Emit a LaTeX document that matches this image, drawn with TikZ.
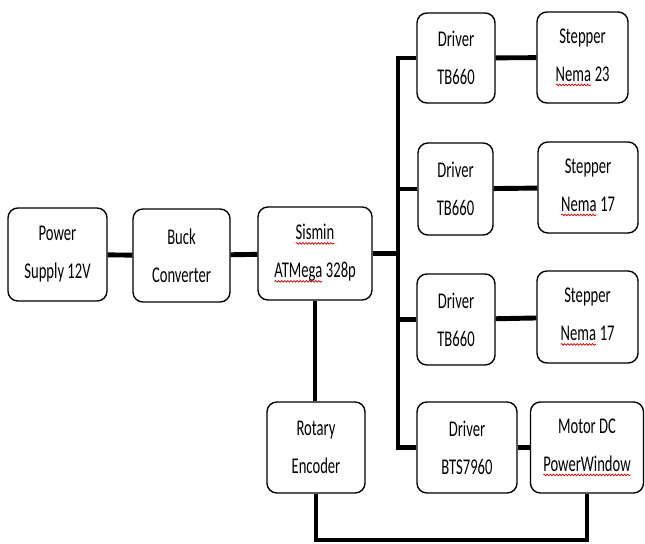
\documentclass[tikz,border=0pt]{standalone}
\usepackage{fontspec}
\setmainfont[FakeStretch=0.65]{Carlito}
\usetikzlibrary{decorations.pathmorphing}
\newcommand{\salah}[1]{\tikz[baseline=(s.base), x=1cm, y=1cm, sharp corners]{%
  \node[inner sep=0pt, outer sep=0pt, minimum width=0pt, minimum height=0pt,
    draw=none] (s) {#1};
  \draw[red!80!black, line width=0.5pt, decorate,
    decoration={snake, amplitude=0.6pt, segment length=2.2pt}]
    ([yshift=-2.5pt]s.base west) -- ([yshift=-2.5pt]s.base east);}}

\begin{document}
\begin{tikzpicture}[x=0.025cm, y=-0.025cm,
  blok/.style={draw, rounded corners=7pt, line width=1pt, align=center,
    inner sep=0pt, font=\fontsize{16}{27}\selectfont},
  tebal/.style={line width=3.5pt},
  tipis/.style={line width=2.2pt}]
\useasboundingbox (0,0) rectangle (645,544);
% blok: nama / x / y / lebar / tinggi / teks
\foreach \n/\x/\y/\w/\h/\t in {
  pwr/57.5/254.5/99/93/{Power\\Supply 12V},
  buck/181.5/255.5/97/93/{Buck\\Converter},
  sismin/315/253.5/114/93/{\salah{Sismin}\\\salah{ATMega} 328p},
  rot/316/447.5/98/91/{Rotary\\Encoder},
  drvA/456/58/78/90/{Driver\\TB660},
  stpA/582.5/57.5/91/91/{Stepper\\\salah{Nema} 23},
  drvB/455.5/189/75/92/{Driver\\TB660},
  stpB/588/187.5/100/91/{Stepper\\\salah{Nema} 17},
  drvC/456/319.5/78/91/{Driver\\TB660},
  stpC/587.5/317/101/92/{Stepper\\\salah{Nema} 17},
  drvD/467/447.5/100/91/{Driver\\BTS7960},
  motor/587/447.5/113/91/{Motor DC\\\salah{PowerWindow}}}
  {\node[blok, minimum width=\w*0.025cm, minimum height=\h*0.025cm] (\n) at (\x,\y) {\t};}
% jalur daya dan bus driver
\coordinate (bus) at (398,0);
\coordinate (bawah) at (0,540);
\draw[tebal] (pwr) -- (buck);
\draw[tebal] (buck) -- (sismin);
\draw[tebal] (sismin.east) -- (bus |- sismin.east);
\draw[tebal] (drvA.west) -- (bus |- drvA.west) -- (bus |- drvD.west) -- (drvD.west);
\foreach \d in {drvB,drvC}
  {\draw[tebal] (bus |- \d.west) -- (\d.west);}
\foreach \d/\s in {drvA/stpA,drvB/stpB,drvC/stpC,drvD/motor}
  {\draw[tebal] (\d) -- (\s);}
% umpan balik encoder
\draw[tipis] (sismin.south) -- (sismin.south |- rot.north);
\draw[line width=2.8pt] (rot.south) -- (rot.south |- bawah) -| (motor.south);
\end{tikzpicture}
\end{document}
